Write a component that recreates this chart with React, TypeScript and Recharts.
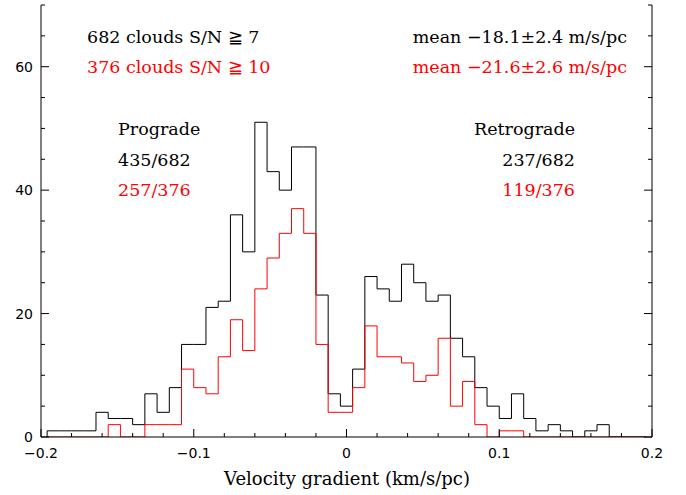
import React from 'react';
import { LineChart, Line, XAxis, YAxis } from 'recharts';

// histogram bins: width 0.008, first bin starts at -0.196
const binStart = -0.196;
const binWidth = 0.008;

// counts per bin, S/N >= 7 (682 clouds)
const countsSN7 = [
  1, 1, 1, 1, 4, 3, 3, 2, 7, 4, 8, 15, 15, 21, 22, 36, 30, 51, 43, 40, 47, 47, 23, 7, 5,
  11, 26, 24, 22, 28, 25, 22, 23, 16, 13, 8, 5, 3, 7, 3, 1, 2, 1, 0, 1, 2, 0, 0, 0,
];

// counts per bin, S/N >= 10 (376 clouds)
const countsSN10 = [
  0, 0, 0, 0, 0, 2, 0, 0, 2, 2, 2, 11, 8, 7, 13, 19, 14, 24, 29, 33, 37, 33, 15, 4, 4,
  8, 18, 13, 13, 12, 9, 10, 16, 5, 9, 2, 0, 1, 1, 0, 0, 0, 0, 0, 0, 0, 0, 0, 0,
];

const xTicks = [
  -0.2, -0.18, -0.16, -0.14, -0.12, -0.1, -0.08, -0.06, -0.04, -0.02, 0,
  0.02, 0.04, 0.06, 0.08, 0.1, 0.12, 0.14, 0.16, 0.18, 0.2,
];
const yTicks = [0, 5, 10, 15, 20, 25, 30, 35, 40, 45, 50, 55, 60, 65, 70];

// build step data from bin left edges (plus closing edge)
const data = [{ x: binStart, sn7: 0, sn10: 0 }];
for (let i = 0; i <= countsSN7.length; i++) {
  const k = Math.min(i, countsSN7.length - 1);
  data.push({ x: binStart + binWidth * i, sn7: countsSN7[k], sn10: countsSN10[k] });
}

const isMajorX = (v: number) => Math.abs(Math.round(v * 100)) % 10 === 0;
const isMajorY = (v: number) => v % 20 === 0;
const fmtX = (v: number) => (Math.abs(v) < 1e-9 ? '0' : (v < 0 ? '\u2212' : '') + Math.abs(v).toFixed(1));

const tickFont = { fontFamily: 'DejaVu Sans', fontSize: 14, fill: '#000' };
const serif = 'DejaVu Serif';

const BottomTick = (props: any) => {
  const { x, y, payload } = props;
  const major = isMajorX(payload.value);
  return (
    <g>
      <line x1={x} y1={y} x2={x} y2={y - (major ? 8 : 4)} stroke="#000" />
      {major && (
        <text x={x} y={y + 21} textAnchor="middle" {...tickFont}>
          {fmtX(payload.value)}
        </text>
      )}
    </g>
  );
};

const TopTick = (props: any) => {
  const { x, y, payload } = props;
  const major = isMajorX(payload.value);
  return <line x1={x} y1={y} x2={x} y2={y + (major ? 8 : 4)} stroke="#000" />;
};

const LeftTick = (props: any) => {
  const { x, y, payload } = props;
  const major = isMajorY(payload.value);
  return (
    <g>
      <line x1={x} y1={y} x2={x + (major ? 8 : 4)} y2={y} stroke="#000" />
      {major && (
        <text x={x - 8} y={y + 5} textAnchor="end" {...tickFont}>
          {payload.value}
        </text>
      )}
    </g>
  );
};

const RightTick = (props: any) => {
  const { x, y, payload } = props;
  const major = isMajorY(payload.value);
  return <line x1={x} y1={y} x2={x - (major ? 8 : 4)} y2={y} stroke="#000" />;
};

export default function App() {
  return (
    <div style={{ position: 'absolute', left: 0, top: 0, width: 686, height: 495, background: '#fff' }}>
      <LineChart width={686} height={495} data={data} margin={{ top: 5, right: 0, bottom: 0, left: 0 }}>
        <XAxis
          dataKey="x"
          type="number"
          domain={[-0.2, 0.2]}
          ticks={xTicks}
          interval={0}
          height={58}
          tickSize={0}
          tickMargin={0}
          tickLine={false}
          axisLine={{ stroke: '#000' }}
          tick={<BottomTick />}
          allowDataOverflow
        />
        <XAxis
          xAxisId="top"
          orientation="top"
          dataKey="x"
          type="number"
          domain={[-0.2, 0.2]}
          ticks={xTicks}
          interval={0}
          height={0}
          tickSize={0}
          tickMargin={0}
          tickLine={false}
          axisLine={{ stroke: '#000' }}
          tick={<TopTick />}
          allowDataOverflow
        />
        <YAxis
          domain={[0, 70]}
          ticks={yTicks}
          interval={0}
          width={41}
          tickSize={0}
          tickMargin={0}
          tickLine={false}
          axisLine={{ stroke: '#000' }}
          tick={<LeftTick />}
          allowDataOverflow
        />
        <YAxis
          yAxisId="right"
          orientation="right"
          domain={[0, 70]}
          ticks={yTicks}
          interval={0}
          width={34}
          tickSize={0}
          tickMargin={0}
          tickLine={false}
          axisLine={{ stroke: '#000' }}
          tick={<RightTick />}
          allowDataOverflow
        />
        <Line dataKey="sn7" type="stepAfter" stroke="#000" strokeWidth={1} dot={false} activeDot={false} isAnimationActive={false} />
        <Line dataKey="sn10" type="stepAfter" stroke="#ff0000" strokeWidth={1} dot={false} activeDot={false} isAnimationActive={false} />
      </LineChart>
      <svg width={686} height={495} style={{ position: 'absolute', left: 0, top: 0, pointerEvents: 'none' }}>
        <g fontFamily={serif} fontSize={17.5}>
          <text x={87} y={43} fill="#000">682 clouds S/N ≧ 7</text>
          <text x={87} y={73} fill="#ff0000">376 clouds S/N ≧ 10</text>
          <text x={627} y={43} fill="#000" textAnchor="end">mean −18.1±2.4 m/s/pc</text>
          <text x={627} y={73} fill="#ff0000" textAnchor="end">mean −21.6±2.6 m/s/pc</text>
          <text x={118} y={134.5} fill="#000">Prograde</text>
          <text x={118} y={166} fill="#000">435/682</text>
          <text x={118} y={196} fill="#ff0000">257/376</text>
          <text x={575} y={134.5} fill="#000" textAnchor="end">Retrograde</text>
          <text x={575} y={166} fill="#000" textAnchor="end">237/682</text>
          <text x={575} y={196} fill="#ff0000" textAnchor="end">119/376</text>
        </g>
        <text x={347} y={485} fontFamily={serif} fontSize={18} textAnchor="middle" fill="#000">
          Velocity gradient (km/s/pc)
        </text>
      </svg>
    </div>
  );
}
